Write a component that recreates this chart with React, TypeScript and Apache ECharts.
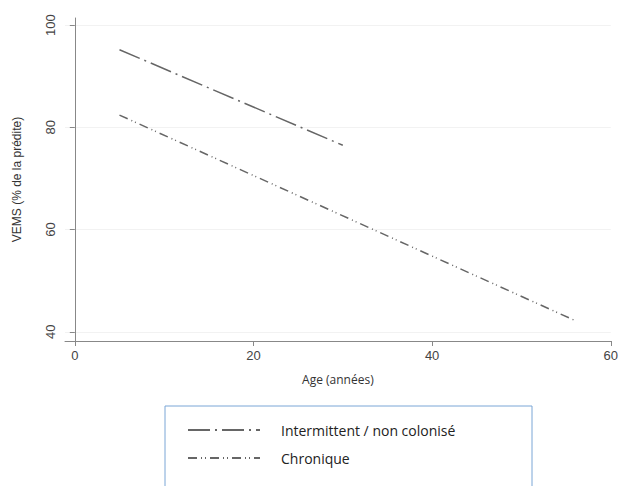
import React, { useEffect, useRef } from "react";
import * as echarts from "echarts";

const seriesNames = ["Intermittent / non colonisé", "Chronique"];
const intermittent = [
  [5, 95.2],
  [30, 76.5],
];
const chronique = [
  [5, 82.4],
  [56, 42.2],
];
const xTicks = [0, 20, 40, 60];
const yTicks = [40, 60, 80, 100];

const App: React.FC = () => {
  const chartRef = useRef<HTMLDivElement>(null);

  useEffect(() => {
    if (!chartRef.current) return;
    const chart = echarts.init(chartRef.current, null, { renderer: "svg" });
    const axisText = { color: "#444", fontFamily: "Liberation Sans", fontSize: 13 };
    const dash1 = [22, 5, 2, 5];
    const dash2 = [9, 4, 1, 3, 1, 4];
    chart.setOption({
      animation: false,
      backgroundColor: "#fff",
      grid: { left: 65, right: 1, top: 18, bottom: 145 },
      xAxis: {
        type: "value",
        min: -1.1,
        max: 60,
        name: "Age (années)",
        nameLocation: "middle",
        nameGap: 32,
        nameTextStyle: { color: "#333", fontFamily: "Open Sans", fontSize: 12 },
        axisLine: { lineStyle: { color: "#888" } },
        axisTick: { show: true, customValues: xTicks, length: 5, lineStyle: { color: "#888" } },
        axisLabel: { customValues: xTicks, ...axisText },
        splitLine: { show: false },
      },
      yAxis: {
        type: "value",
        min: 38.2,
        max: 101.4,
        name: "VEMS (% de la prédite)",
        nameLocation: "middle",
        nameGap: 42,
        nameTextStyle: { color: "#333", fontFamily: "Liberation Sans", fontSize: 12 },
        axisLine: { show: true, lineStyle: { color: "#888" } },
        axisTick: { show: true, customValues: yTicks, length: 5, lineStyle: { color: "#888" } },
        axisLabel: { customValues: yTicks, rotate: 90, ...axisText },
        splitLine: { show: true, customValues: yTicks, lineStyle: { color: "#f2f2f2" } },
      },
      legend: {
        orient: "vertical",
        left: 182,
        top: 418,
        itemWidth: 72,
        itemHeight: 10,
        itemGap: 14,
        textStyle: { color: "#222", fontFamily: "Open Sans", fontSize: 14, padding: [0, 0, 0, 16] },
        data: [
          { name: seriesNames[0], itemStyle: { opacity: 0 }, lineStyle: { color: "#666", width: 2, type: dash1 } },
          { name: seriesNames[1], itemStyle: { opacity: 0 }, lineStyle: { color: "#666", width: 2, type: dash2 } },
        ],
      },
      graphic: [
        {
          type: "rect",
          shape: { x: 165, y: 406, width: 367, height: 100 },
          style: { fill: "none", stroke: "#7aa6d6", lineWidth: 1 },
        },
      ],
      series: [
        {
          name: seriesNames[0],
          type: "line",
          data: intermittent,
          symbol: "none",
          lineStyle: { color: "#666", width: 1.5, type: dash1 },
          itemStyle: { color: "#666" },
        },
        {
          name: seriesNames[1],
          type: "line",
          data: chronique,
          symbol: "none",
          lineStyle: { color: "#666", width: 1.5, type: dash2 },
          itemStyle: { color: "#666" },
        },
      ],
    });
    return () => chart.dispose();
  }, []);

  return (
    <div
      ref={chartRef}
      style={{ position: "absolute", left: 0, top: 0, width: 621, height: 486 }}
    ></div>
  );
};

export default App;
